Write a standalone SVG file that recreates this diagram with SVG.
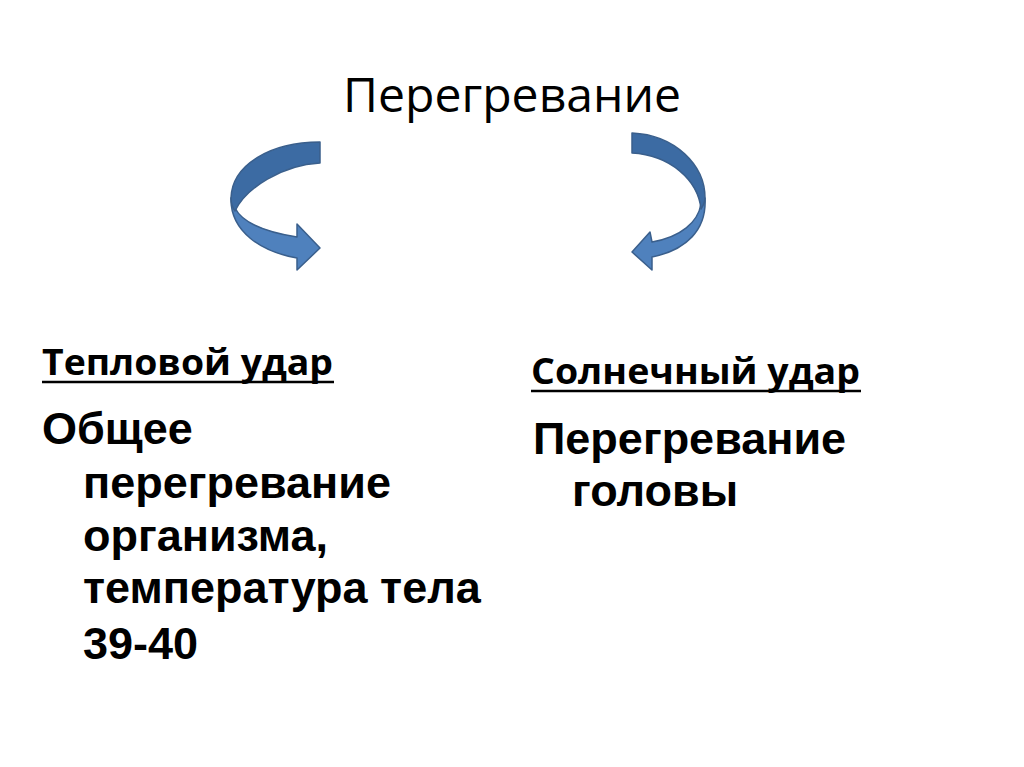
<svg xmlns="http://www.w3.org/2000/svg" width="1024" height="767" viewBox="0 0 1024 767">
<style>
.title{font-family:"Open Sans","Noto Sans","Liberation Sans",sans-serif;font-size:47px;fill:#000}
.head{font-family:"Open Sans","Noto Sans","Liberation Sans",sans-serif;font-size:35px;font-weight:bold;fill:#000}
.body{font-family:"Liberation Sans",Arial,sans-serif;font-size:45px;font-weight:bold;fill:#000}
.ul{stroke:#000;stroke-width:2.5}
.light{fill:#4f81bd;stroke:#3a5f8c;stroke-width:1.5;stroke-linejoin:round}
.dark{fill:#3c6ba3;stroke:#3a5f8c;stroke-width:1.5;stroke-linejoin:round}
</style>
<rect width="1024" height="767" fill="#fff"/>
<g id="title"><text class="title" x="343" y="112" textLength="338" lengthAdjust="spacingAndGlyphs">Перегревание</text></g>
<g id="connectors">
<g id="arrow-left">
<path class="light" d="M231,198 C230,232 262,252 297,258 L297,270 L320,248 L297,224 L297,237 C265,232 242,222 235,208 Z"/>
<path class="dark" d="M320,142 C270,142 232,165 231,198 C231,204 232,207 235,211 C246,188 282,165 320,163 Z"/>
</g>
<g id="arrow-right">
<path class="light" d="M705,198 C707,230 686,250 652,257 L652,270 L632,252 L650,232 L652,242 C681,237 698,222 701,204 Z"/>
<path class="dark" d="M632,133 C675,135 705,165 705,198 C705,202 703,206 701,209 C698,180 670,155 632,153 Z"/>
</g>
</g>
<g id="node-left">
<text class="head" x="42" y="375" textLength="291" lengthAdjust="spacingAndGlyphs">Тепловой удар</text>
<line class="ul" x1="42" y1="382" x2="334" y2="382"/>
<text class="body" x="42" y="444">Общее</text>
<text class="body" x="83" y="498">перегревание</text>
<text class="body" x="83" y="551">организма,</text>
<text class="body" x="83" y="603">температура тела</text>
<text class="body" x="83" y="659">39-40</text>
</g>
<g id="node-right">
<text class="head" x="531" y="384" textLength="329" lengthAdjust="spacingAndGlyphs">Солнечный удар</text>
<line class="ul" x1="531" y1="391" x2="861" y2="391"/>
<text class="body" x="533" y="454">Перегревание</text>
<text class="body" x="572" y="506">головы</text>
</g>
</svg>
